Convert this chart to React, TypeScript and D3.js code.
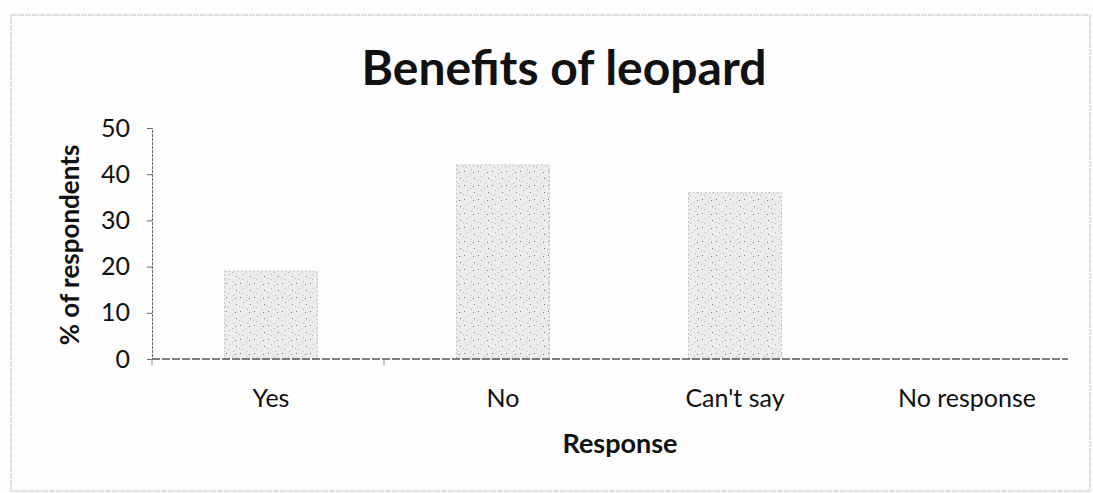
import React, { useEffect, useRef } from 'react';
import * as d3 from 'd3';

const categories = ['Yes', 'No', "Can't say", 'No response'];
const values = [19, 42, 36, 0];
const yTicks = [0, 10, 20, 30, 40, 50];

const App: React.FC = () => {
  const svgRef = useRef<SVGSVGElement>(null);

  useEffect(() => {
    if (!svgRef.current) return;
    const svg = d3.select(svgRef.current);
    svg.selectAll('*').remove();

    const W = 1093;
    const H = 493;
    const font = 'Lato, "Open Sans", sans-serif';

    svg.append('rect').attr('width', W).attr('height', H).style('fill', '#fdfdfd');

    // outer chart border
    svg.append('rect')
      .attr('x', 11).attr('y', 15).attr('width', 1079).attr('height', 476)
      .style('fill', 'none').style('stroke', '#c4c4c4').style('stroke-width', 1)
      .style('stroke-dasharray', '6,1');

    // speckle pattern for bars
    const defs = svg.append('defs');
    const pat = defs.append('pattern')
      .attr('id', 'speckle').attr('patternUnits', 'userSpaceOnUse')
      .attr('width', 14).attr('height', 14);
    pat.append('rect').attr('width', 14).attr('height', 14).style('fill', '#ececec');
    const dots = [[2, 3], [9, 1], [5, 8], [12, 10], [1, 12], [8, 6], [11, 4], [4, 13]];
    dots.forEach((d, i) => {
      pat.append('rect').attr('x', d[0]).attr('y', d[1]).attr('width', 1).attr('height', 1)
        .style('fill', i % 3 === 0 ? '#777' : '#b4b4b4');
    });

    const x = d3.scaleBand<string>()
      .domain(categories)
      .range([155, 1083])
      .paddingInner(0.6)
      .paddingOuter(0.3);

    const y = d3.scaleLinear().domain([0, 50]).range([359, 128]);

    // bars
    svg.selectAll('.bar')
      .data(categories)
      .enter()
      .append('rect')
      .attr('x', d => x(d)!)
      .attr('y', (d, i) => y(values[i]))
      .attr('width', x.bandwidth())
      .attr('height', (d, i) => y(0) - y(values[i]))
      .style('fill', 'url(#speckle)')
      .style('stroke', '#bdbdbd')
      .style('stroke-width', 1)
      .style('stroke-dasharray', '2,2');

    // y axis
    const yAxis = d3.axisLeft(y).tickValues(yTicks).tickSize(5).tickPadding(17);
    const gy = svg.append('g').attr('transform', 'translate(152,0)').call(yAxis as any);
    gy.select('.domain').style('stroke', '#666').style('stroke-dasharray', '3,1');
    gy.selectAll('.tick line').style('stroke', '#666');
    gy.selectAll('.tick text')
      .style('font-family', font).style('font-size', '25px').style('fill', '#111');

    // x axis
    const step = x.step();
    const xStart = 152;
    svg.append('line')
      .attr('x1', xStart).attr('x2', 1068)
      .attr('y1', y(0)).attr('y2', y(0))
      .style('stroke', '#555').style('stroke-width', 1.5).style('stroke-dasharray', '8,2');
    [0, 1].forEach(i => {
      const tx = xStart + i * step;
      svg.append('line')
        .attr('x1', tx).attr('x2', tx).attr('y1', y(0)).attr('y2', y(0) + 6)
        .style('stroke', '#888');
    });
    svg.selectAll('.xlabel')
      .data(categories)
      .enter()
      .append('text')
      .attr('x', d => x(d)! + x.bandwidth() / 2)
      .attr('y', 407)
      .style('text-anchor', 'middle')
      .style('font-family', font)
      .style('font-size', '25px')
      .style('fill', '#111')
      .text(d => d);

    // title
    svg.append('text')
      .attr('x', 564).attr('y', 85)
      .style('text-anchor', 'middle')
      .style('font-family', font)
      .style('font-weight', 'bold')
      .style('font-size', '48px')
      .style('fill', '#111')
      .text('Benefits of leopard');

    // axis titles
    svg.append('text')
      .attr('transform', 'translate(79,245) rotate(-90)')
      .style('text-anchor', 'middle')
      .style('font-family', font)
      .style('font-weight', 'bold')
      .style('font-size', '26px')
      .style('fill', '#111')
      .text('% of respondents');

    svg.append('text')
      .attr('x', 620).attr('y', 453)
      .style('text-anchor', 'middle')
      .style('font-family', font)
      .style('font-weight', 'bold')
      .style('font-size', '27px')
      .style('fill', '#111')
      .text('Response');
  }, []);

  return (
    <svg
      ref={svgRef}
      width={1093}
      height={493}
      style={{ position: 'absolute', left: 0, top: 0, display: 'block' }}
    />
  );
};

export default App;
